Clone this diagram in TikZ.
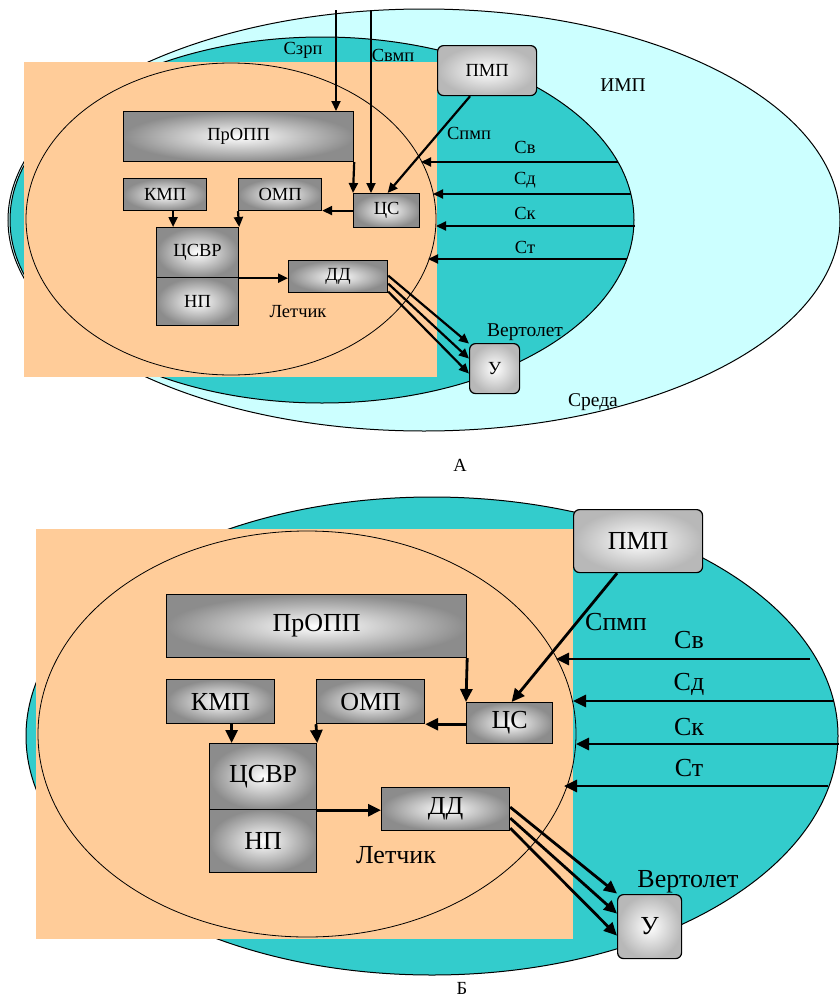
\documentclass[tikz,border=0pt]{standalone}
\usepackage{fontspec}
\setmainfont{Liberation Serif}
\newfontfamily\tnr{Liberation Serif}
\usetikzlibrary{arrows.meta,calc}
\definecolor{lcyan}{HTML}{CCFFFF}
\definecolor{tealc}{HTML}{33CCCC}
\definecolor{peach}{HTML}{FFCC99}
\begin{document}
\begin{tikzpicture}[x=1pt,y=-1pt,
  fA/.style={font=\tnr\fontsize{18.5}{20}\selectfont},
  fB/.style={font=\tnr\fontsize{26}{28}\selectfont},
  fAl/.style={font=\tnr\fontsize{19.5}{21}\selectfont},
  blk/.style={draw=black, line width=1.2pt, shading=radial, inner color=white, outer color=black!45, inner sep=0pt, anchor=north west},
  rblk/.style={draw=black, line width=1.2pt, rounded corners=6pt, shading=radial, inner color=white, outer color=black!28, inner sep=0pt, anchor=north west},
  arA/.style={line width=2.2pt, -{Triangle[length=10pt,width=9pt]}},
  arB/.style={line width=2.8pt, -{Triangle[length=13pt,width=12pt]}},
  lbl/.style={inner sep=0pt}
]
\useasboundingbox (0,0) rectangle (839,1001);
\fill[white] (0,0) rectangle (839,1001);

% ================= A =================
\draw[fill=lcyan, line width=1pt] (424,220) ellipse [x radius=416, y radius=211];
\draw[fill=tealc, line width=1pt] (322,220) ellipse [x radius=312, y radius=183];
\fill[peach] (24,62) rectangle (437,377);
\draw[line width=0.8pt] (231,219) ellipse [x radius=205, y radius=156];

\node[blk, fA, minimum width=230pt, minimum height=50pt] (proA) at (123,111) {ПрОПП};
\node[blk, fA, minimum width=83pt, minimum height=32pt] (kmA) at (123,178) {КМП};
\node[blk, fA, minimum width=83pt, minimum height=32pt] (omA) at (238,178) {ОМП};
\node[blk, fA, minimum width=66pt, minimum height=34pt] (csA) at (353,193) {ЦС};
\node[blk, fA, minimum width=82pt, minimum height=50pt] (cvA) at (156,227) {ЦСВР};
\node[blk, fA, minimum width=82pt, minimum height=48pt] (npA) at (156,277) {НП};
\node[blk, fA, minimum width=99pt, minimum height=32pt] (ddA) at (288,260) {ДД};
\node[rblk, fA, minimum width=99pt, minimum height=50pt] (pmA) at (437,45) {ПМП};
\node[rblk, fA, minimum width=50pt, minimum height=50pt] (uA) at (469,343) {У};

\coordinate (szA) at (336,10);
\coordinate (svmA) at (371,10);
\draw[arA] (szA) -- (szA |- proA.north);
\draw[arA] (svmA) -- (svmA |- csA.north);
\draw[arA] (proA.south east) -- (csA.north west);
\draw[arA] ([xshift=-17pt]pmA.south) -- ([xshift=1pt]csA.north);
\draw[arA] (csA.west) -- (csA.west -| omA.east);
\draw[arA] ([xshift=8pt]kmA.south) -- ([xshift=8pt]kmA.south |- cvA.north);
\draw[arA] (omA.south west) -- (cvA.north east);
\draw[arA] (cvA.south east) -- (cvA.south east -| ddA.west);
\draw[arA] ([yshift=1pt]ddA.east) -- ([yshift=25pt]uA.west);
\draw[arA] ([yshift=-7pt]ddA.east) -- ([yshift=10pt]uA.west);
\draw[arA] ([yshift=-15pt]ddA.east) -- ([yshift=-5pt]uA.west);

\coordinate (sv0A) at (618,162);  \coordinate (sv1A) at (421,162);
\coordinate (sd0A) at (631,194);  \coordinate (sd1A) at (433,194);
\coordinate (sk0A) at (635,226);  \coordinate (sk1A) at (436,226);
\coordinate (st0A) at (627,259);  \coordinate (st1A) at (428,259);
\draw[arA] (sv0A) -- (sv1A);
\draw[arA] (sd0A) -- (sd1A);
\draw[arA] (sk0A) -- (sk1A);
\draw[arA] (st0A) -- (st1A);

\node[lbl, fA] (lszA) at (303,50) {Сзрп};
\node[lbl, fA] (lsvmA) at (393,55) {Свмп};
\node[lbl, fAl] (limpA) at (623,85) {ИМП};
\node[lbl, fA] (lspA) at (469,133) {Спмп};
\node[lbl, fA] (lsvA) at (525,147) {Св};
\node[lbl, fA] (lsdA) at (525,180) {Сд};
\node[lbl, fA] (lskA) at (525,213) {Ск};
\node[lbl, fA] (lstA) at (525,247) {Ст};
\node[lbl, fAl] (lvA) at (525,332) {Вертолет};
\node[lbl, fAl] (lsrA) at (593,402) {Среда};
\node[lbl, fA] (lleA) at (298,312) {Летчик};
\node[lbl, fA] (capA) at (460,465) {А};

% ================= Б =================
\draw[fill=tealc, line width=1pt] (432,736) ellipse [x radius=406, y radius=239];
\fill[peach] (36,529) rectangle (573,939);
\draw[line width=0.8pt] (307,734) ellipse [x radius=269, y radius=203];

\node[blk, fB, minimum width=300pt, minimum height=63pt] (proB) at (166,594) {ПрОПП};
\node[blk, fB, minimum width=108pt, minimum height=44pt] (kmB) at (166,679) {КМП};
\node[blk, fB, minimum width=108pt, minimum height=44pt] (omB) at (316,679) {ОМП};
\node[blk, fB, minimum width=86pt, minimum height=41pt] (csB) at (466,702) {ЦС};
\node[blk, fB, minimum width=107pt, minimum height=66pt] (cvB) at (209,743) {ЦСВР};
\node[blk, fB, minimum width=107pt, minimum height=63pt] (npB) at (209,809) {НП};
\node[blk, fB, minimum width=128pt, minimum height=43pt] (ddB) at (381,787) {ДД};
\node[rblk, fB, minimum width=129pt, minimum height=63pt] (pmB) at (573,509) {ПМП};
\node[rblk, fB, minimum width=64pt, minimum height=64pt] (uB) at (617,894) {У};

\draw[arB] (proB.south east) -- (csB.north west);
\draw[arB] ([xshift=-21pt]pmB.south) -- ([xshift=2pt]csB.north);
\draw[arB] (csB.west |- omB.south) -- (omB.south east);
\draw[arB] ([xshift=11pt]kmB.south) -- ([xshift=11pt]kmB.south |- cvB.north);
\draw[arB] (omB.south west) -- (cvB.north east);
\draw[arB] (cvB.south east) -- (cvB.south east -| ddB.west);
\draw[arB] ([yshift=2pt]ddB.east) -- ([yshift=33pt]uB.west);
\draw[arB] ([yshift=-9pt]ddB.east) -- ([yshift=13pt]uB.west);
\draw[arB] ([yshift=-19pt]ddB.east) -- ([yshift=-9pt]uB.west);

\coordinate (sv0B) at (810,659);  \coordinate (sv1B) at (556,659);
\coordinate (sd0B) at (834,701);  \coordinate (sd1B) at (573,701);
\coordinate (sk0B) at (839,744);  \coordinate (sk1B) at (576,744);
\coordinate (st0B) at (828,786);  \coordinate (st1B) at (564,786);
\draw[arB] (sv0B) -- (sv1B);
\draw[arB] (sd0B) -- (sd1B);
\draw[arB] (sk0B) -- (sk1B);
\draw[arB] (st0B) -- (st1B);

\node[lbl, fB] (lspB) at (616,622) {Спмп};
\node[lbl, fB] (lsvB) at (689,640) {Св};
\node[lbl, fB] (lsdB) at (689,684) {Сд};
\node[lbl, fB] (lskB) at (689,727) {Ск};
\node[lbl, fB] (lstB) at (689,768) {Ст};
\node[lbl, fB] (lvB) at (688,882) {Вертолет};
\node[lbl, fB] (lleB) at (396,855) {Летчик};
\node[lbl, fA] (capB) at (462,988) {Б};
\end{tikzpicture}
\end{document}
